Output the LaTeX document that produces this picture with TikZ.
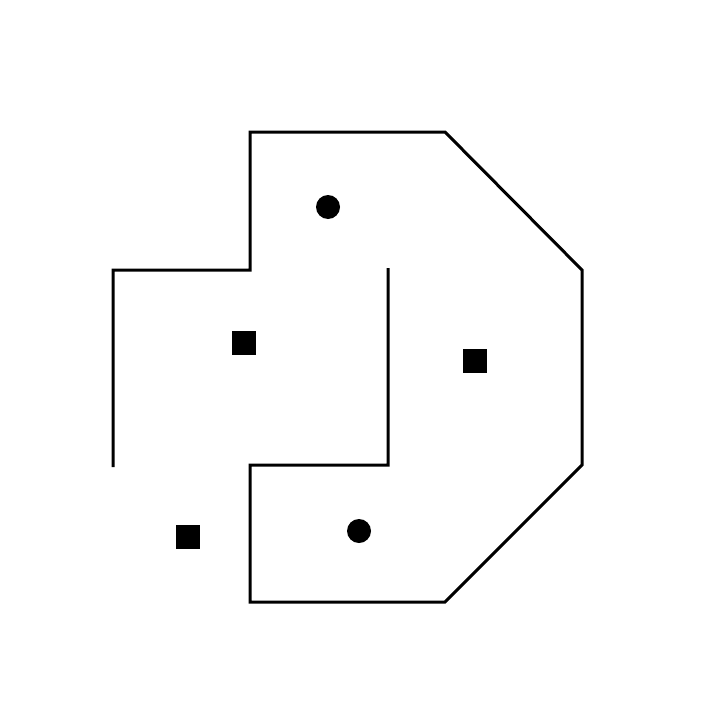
\documentclass[tikz,border=0pt]{standalone}
\usepackage{tikz}

\begin{document}
\begin{tikzpicture}[x=1pt, y=-1pt, line width=3pt,
    wall/.style={draw=black, line cap=butt, line join=miter},
    goal/.style={fill=black},
    block/.style={fill=black}]
            \useasboundingbox (0,0) rectangle (720,720);
            % outer wall
            \draw[wall] (113,467) -- (113,270) -- (250,270) -- (250,132) -- (445,132)
                -- (582,270) -- (582,465) -- (445,602) -- (250,602) -- (250,465)
                -- (388,465) -- (388,268);
            % round markers
            \fill[goal] (328,207) circle (12);
            \fill[goal] (359,531) circle (12);
            % square markers
            \fill[block] (232,331) rectangle (256,355);
            \fill[block] (463,349) rectangle (487,373);
            \fill[block] (176,525) rectangle (200,549);
        \end{tikzpicture}
\end{document}
